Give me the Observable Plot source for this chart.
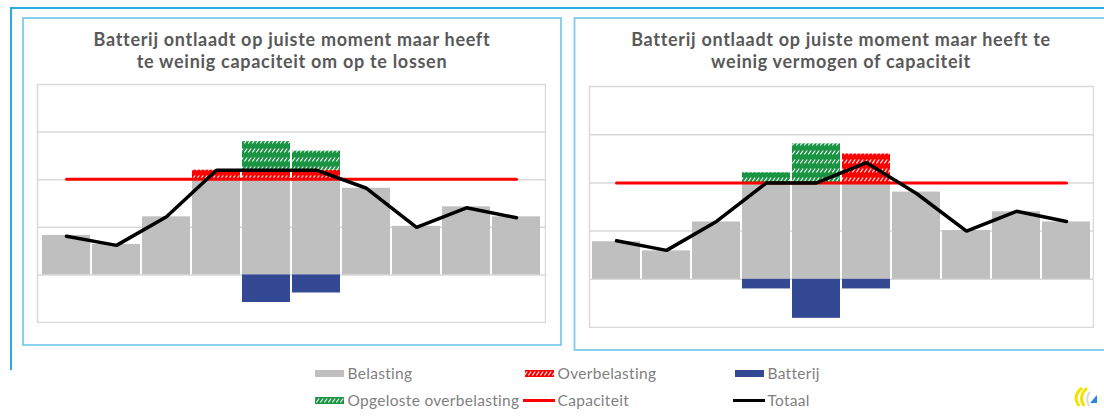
<!DOCTYPE html>
<html>
<head>
<meta charset="utf-8">
<script src="https://cdn.jsdelivr.net/npm/d3@7"></script>
<script src="https://cdn.jsdelivr.net/npm/@observablehq/plot@0.6"></script>
<style>
  html, body { margin: 0; padding: 0; background: #fff; }
  #root { position: relative; width: 1104px; height: 419px; overflow: hidden; }
  #bg { position: absolute; left: 0; top: 0; }
  .chart { position: absolute; }
  .chart svg { display: block; }
</style>
</head>
<body>
<div id="root">
  <svg id="bg" width="1104" height="419" xmlns="http://www.w3.org/2000/svg">
    <defs>
      <pattern id="hatchRed" patternUnits="userSpaceOnUse" width="4" height="9">
        <rect width="4" height="9" fill="#ff0000"></rect>
        <line x1="0.3" y1="6.5" x2="3.2" y2="2.5" stroke="#ffffff" stroke-width="1.1"></line>
      </pattern>
      <pattern id="hatchGreen" patternUnits="userSpaceOnUse" width="4" height="9">
        <rect width="4" height="9" fill="#1a9443"></rect>
        <line x1="0.3" y1="6.5" x2="3.2" y2="2.5" stroke="#ffffff" stroke-width="1.1"></line>
      </pattern>
    </defs>
    <g id="frames"></g>
    <g id="titles" font-family="Lato, 'Open Sans', sans-serif" font-weight="700" font-size="18" letter-spacing="0.7" fill="#595959" text-anchor="middle"></g>
    <g id="legend" font-family="Lato, 'Open Sans', sans-serif" font-size="15.5" letter-spacing="0.3" fill="#7f7f7f"></g>
    <g id="logo"></g>
  </svg>
  <div id="left" class="chart" style="left:36px; top:83px;"></div>
  <div id="right" class="chart" style="left:588px; top:85px;"></div>
</div>
<script>
// ---------- data ----------
const categories = ["1", "2", "3", "4", "5", "6", "7", "8", "9", "10"];

const titleLeft = ["Batterij ontlaadt op juiste moment maar heeft", "te weinig capaciteit om op te lossen"];
const titleRight = ["Batterij ontlaadt op juiste moment maar heeft te", "weinig vermogen of capaciteit"];

// Left panel
const belastingL     = [0.83, 0.64, 1.22, 2.0, 2.0, 2.0, 1.82, 1.02, 1.43, 1.22];
const overbelastingL = [0, 0, 0, 0.2, 0.2, 0.2, 0, 0, 0, 0];
const opgelostL      = [0, 0, 0, 0, 0.6, 0.4, 0, 0, 0, 0];
const batterijL      = [0, 0, 0, 0, -0.58, -0.38, 0, 0, 0, 0];
const totaalL        = [0.81, 0.62, 1.22, 2.2, 2.2, 2.2, 1.82, 1.0, 1.41, 1.2];
const capaciteitL    = 2.01;

// Right panel
const belastingR     = [0.78, 0.59, 1.19, 2.0, 2.0, 2.0, 1.81, 1.01, 1.40, 1.19];
const overbelastingR = [0, 0, 0, 0, 0, 0.6, 0, 0, 0, 0];
const opgelostR      = [0, 0, 0, 0.21, 0.81, 0, 0, 0, 0, 0];
const batterijR      = [0, 0, 0, -0.2, -0.81, -0.2, 0, 0, 0, 0];
const totaalR        = [0.8, 0.6, 1.2, 2.0, 2.0, 2.42, 1.78, 1.0, 1.41, 1.2];
const capaciteitR    = 2.0;

const gridValues = [0, 1, 2, 3];
const legendItems = [
  {label: "Belasting", kind: "rect", fill: "#bfbfbf"},
  {label: "Overbelasting", kind: "rect", fill: "url(#hatchRed)"},
  {label: "Batterij", kind: "rect", fill: "#344994"},
  {label: "Opgeloste overbelasting", kind: "rect", fill: "url(#hatchGreen)"},
  {label: "Capaciteit", kind: "line", fill: "#ff0000"},
  {label: "Totaal", kind: "line", fill: "#000000"}
];

// ---------- charts ----------
function chart(belasting, over, opgelost, batterij, totaal, cap, width, height) {
  const rows = categories.map((c, i) => ({
    c, b: belasting[i], o: over[i], g: opgelost[i], bat: batterij[i], t: totaal[i], cap
  }));
  const inset = {insetLeft: 1, insetRight: 1};
  return Plot.plot({
    width, height,
    marginTop: 1, marginBottom: 1, marginLeft: 1, marginRight: 1,
    x: {domain: categories, padding: 0, axis: null},
    y: {domain: [-1, 4], axis: null},
    marks: [
      Plot.ruleY(gridValues, {stroke: "#d9d9d9", strokeWidth: 1.5}),
      Plot.barY(rows, {x: "c", y1: 0, y2: "b", fill: "#bfbfbf", ...inset}),
      Plot.barY(rows.filter(d => d.o > 0), {x: "c", y1: "b", y2: d => d.b + d.o, fill: "url(#hatchRed)", ...inset}),
      Plot.barY(rows.filter(d => d.g > 0), {x: "c", y1: d => d.b + d.o, y2: d => d.b + d.o + d.g, fill: "url(#hatchGreen)", ...inset}),
      Plot.barY(rows.filter(d => d.bat < 0), {x: "c", y1: 0, y2: "bat", fill: "#344994", ...inset}),
      Plot.line(rows, {x: "c", y: "cap", stroke: "#ff0000", strokeWidth: 3, strokeLinecap: "round"}),
      Plot.line(rows, {x: "c", y: "t", stroke: "#000000", strokeWidth: 3.5, strokeLinejoin: "miter"}),
      Plot.frame({stroke: "#d9d9d9", strokeWidth: 1.5})
    ]
  });
}

document.getElementById("left").append(
  chart(belastingL, overbelastingL, opgelostL, batterijL, totaalL, capaciteitL, 510, 240));
document.getElementById("right").append(
  chart(belastingR, overbelastingR, opgelostR, batterijR, totaalR, capaciteitR, 506, 243));

// ---------- frames, titles, legend, logo ----------
const NS = "http://www.w3.org/2000/svg";
function el(parent, tag, attrs, text) {
  const e = document.createElementNS(NS, tag);
  for (const k in attrs) e.setAttribute(k, attrs[k]);
  if (text != null) e.textContent = text;
  parent.appendChild(e);
  return e;
}
const frames = document.getElementById("frames");
el(frames, "path", {d: "M11,370 V8 H1104", fill: "none", stroke: "#29abe2", "stroke-width": 2});
el(frames, "rect", {x: 23, y: 18, width: 538, height: 327, fill: "none", stroke: "#7dcbed", "stroke-width": 1.8});
el(frames, "rect", {x: 574.5, y: 18, width: 560, height: 332, fill: "none", stroke: "#7dcbed", "stroke-width": 1.8});

const titles = document.getElementById("titles");
titleLeft.forEach((t, i) => el(titles, "text", {x: 292, y: 46 + i * 22}, t));
titleRight.forEach((t, i) => el(titles, "text", {x: 841, y: 46 + i * 22}, t));

const legend = document.getElementById("legend");
const colX = [315, 525, 735];
const rowY = [373.5, 400.5];
legendItems.forEach((it, i) => {
  const x = colX[i % 3], y = rowY[Math.floor(i / 3)];
  if (it.kind === "rect") {
    el(legend, "rect", {x, y: y - 3.5, width: 29, height: 7, fill: it.fill});
  } else {
    el(legend, "line", {x1: x - 2, x2: x + 30, y1: y, y2: y, stroke: it.fill, "stroke-width": 3});
  }
  el(legend, "text", {x: x + 32.5, y: y + 5.4}, it.label);
});

const logo = document.getElementById("logo");
el(logo, "path", {d: "M1082,388 Q1072,396 1079,406", fill: "none", stroke: "#f3e300", "stroke-width": 3});
el(logo, "path", {d: "M1087,388 Q1078,396 1084,406", fill: "none", stroke: "#f3e300", "stroke-width": 3});
el(logo, "path", {d: "M1090,392 Q1085,398 1089,406", fill: "none", stroke: "#d8d8d8", "stroke-width": 2});
el(logo, "path", {d: "M1090,403 L1097,395 L1097,403 Z", fill: "#2f86d6"});
</script>
</body>
</html>
